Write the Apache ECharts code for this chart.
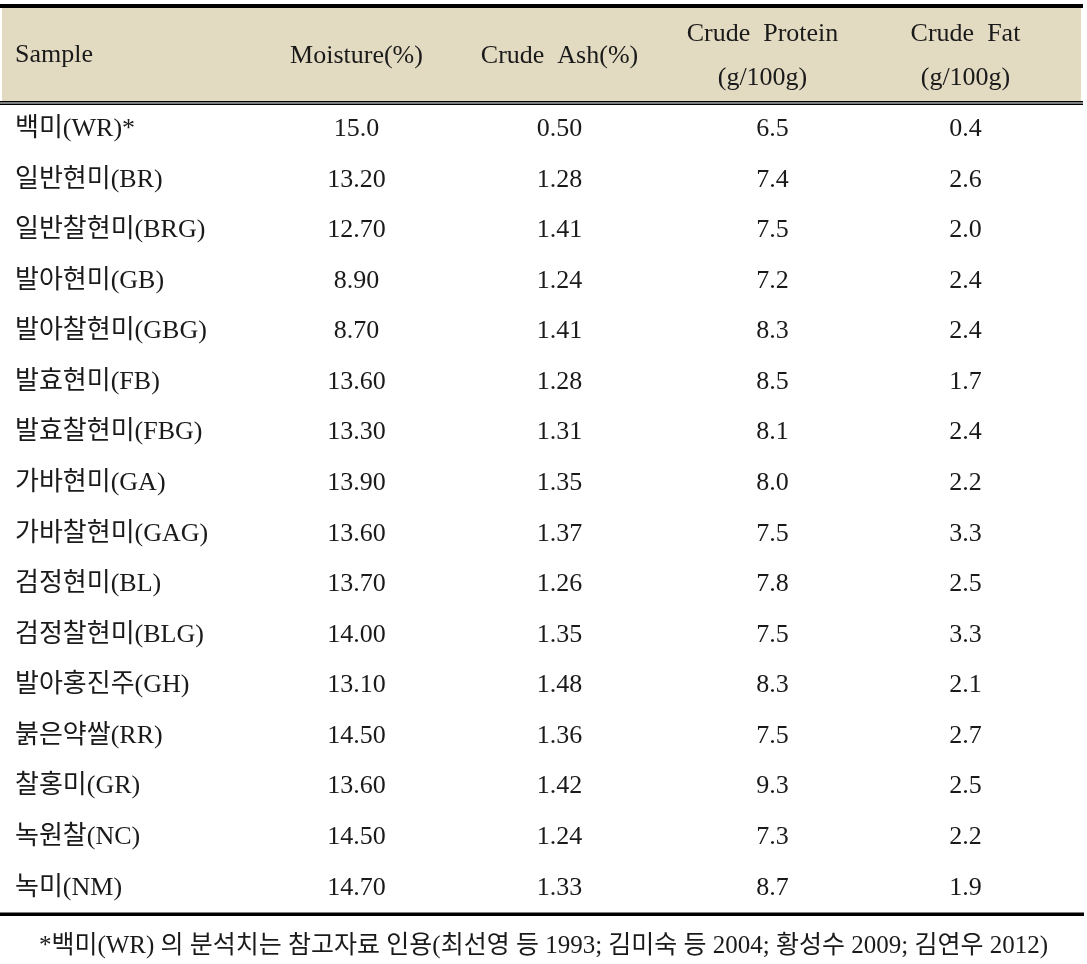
<!DOCTYPE html>
<html>
<head>
<meta charset="utf-8">
<script src="https://cdn.jsdelivr.net/npm/echarts@6/dist/echarts.min.js"></script>
<style>
  html, body { margin: 0; padding: 0; background: #fff; }
  #main { width: 1087px; height: 964px; }
</style>
</head>
<body>
<div id="main"></div>
<script>
// 표 데이터
const columns = ['Moisture(%)', 'Crude  Ash(%)', 'Crude  Protein\n(g/100g)', 'Crude  Fat\n(g/100g)']
const samples = [
  '백미(WR)*', '일반현미(BR)', '일반찰현미(BRG)', '발아현미(GB)', '발아찰현미(GBG)',
  '발효현미(FB)', '발효찰현미(FBG)', '가바현미(GA)', '가바찰현미(GAG)', '검정현미(BL)',
  '검정찰현미(BLG)', '발아홍진주(GH)', '붉은약쌀(RR)', '찰홍미(GR)', '녹원찰(NC)', '녹미(NM)'
]
const moisture = ['15.0', '13.20', '12.70', '8.90', '8.70', '13.60', '13.30', '13.90', '13.60', '13.70', '14.00', '13.10', '14.50', '13.60', '14.50', '14.70']
const crudeAsh = ['0.50', '1.28', '1.41', '1.24', '1.41', '1.28', '1.31', '1.35', '1.37', '1.26', '1.35', '1.48', '1.36', '1.42', '1.24', '1.33']
const crudeProtein = ['6.5', '7.4', '7.5', '7.2', '8.3', '8.5', '8.1', '8.0', '7.5', '7.8', '7.5', '8.3', '7.5', '9.3', '7.3', '8.7']
const crudeFat = ['0.4', '2.6', '2.0', '2.4', '2.4', '1.7', '2.4', '2.2', '3.3', '2.5', '3.3', '2.1', '2.7', '2.5', '2.2', '1.9']
const footnote = '*백미(WR) 의 분석치는 참고자료 인용(최선영 등 1993; 김미숙 등 2004; 황성수 2009; 김연우 2012)'

const FONT = "'Liberation Serif', 'Noto Sans CJK KR', serif"
const TEXT = '#1a1a1a'
const SIZE = 26

const chart = echarts.init(document.getElementById('main'))

// 열마다 하나의 시리즈
const colValues = [moisture, crudeAsh, crudeProtein, crudeFat]
const series = colValues.map((vals, ci) => ({
  type: 'scatter',
  symbolSize: 0,
  silent: true,
  itemStyle: { opacity: 1 },
  data: vals.map((v, ri) => [ci, ri, v]),
  label: {
    show: true,
    position: 'inside',
    formatter: p => p.value[2],
    color: TEXT,
    opacity: 1,
    fontFamily: FONT,
    fontSize: SIZE,
    offset: [ci === 2 ? 10 : 0, 0]
  }
}))

const option = {
  backgroundColor: '#fff',
  animation: false,
  title: {
    text: footnote,
    left: 'center',
    top: 929,
    textStyle: { fontFamily: FONT, fontSize: 25, fontWeight: 'normal', color: TEXT }
  },
  graphic: [
    { type: 'rect', z: -10, shape: { x: 2, y: 8, width: 1079, height: 93 }, style: { fill: '#e2dac1' } },
    { type: 'rect', shape: { x: 0, y: 4, width: 1083, height: 4 }, style: { fill: '#000' } },
    { type: 'rect', shape: { x: 0, y: 101, width: 1083, height: 1.5 }, style: { fill: '#000' } },
    { type: 'rect', shape: { x: 0, y: 103.5, width: 1083, height: 1.5 }, style: { fill: '#000' } },
    { type: 'rect', shape: { x: 0, y: 912.5, width: 1084, height: 3.5 }, style: { fill: '#000' } },
    {
      type: 'text', left: 15, top: 42,
      style: { text: 'Sample', font: SIZE + 'px ' + FONT, fill: TEXT }
    }
  ],
  grid: { left: 255, right: 20, top: 104, bottom: 51 },
  xAxis: {
    type: 'category',
    position: 'top',
    data: columns,
    axisLine: { show: false },
    axisTick: { show: false },
    splitLine: { show: false },
    axisLabel: {
      interval: 0,
      margin: 48,
      verticalAlign: 'middle',
      lineHeight: 44,
      color: TEXT,
      fontFamily: FONT,
      fontSize: SIZE
    }
  },
  yAxis: {
    type: 'category',
    inverse: true,
    data: samples,
    axisLine: { show: false },
    axisTick: { show: false },
    splitLine: { show: false },
    axisLabel: {
      interval: 0,
      align: 'left',
      margin: 240,
      color: TEXT,
      fontFamily: FONT,
      fontSize: SIZE
    }
  },
  series: series
}

chart.setOption(option)
</script>
</body>
</html>
